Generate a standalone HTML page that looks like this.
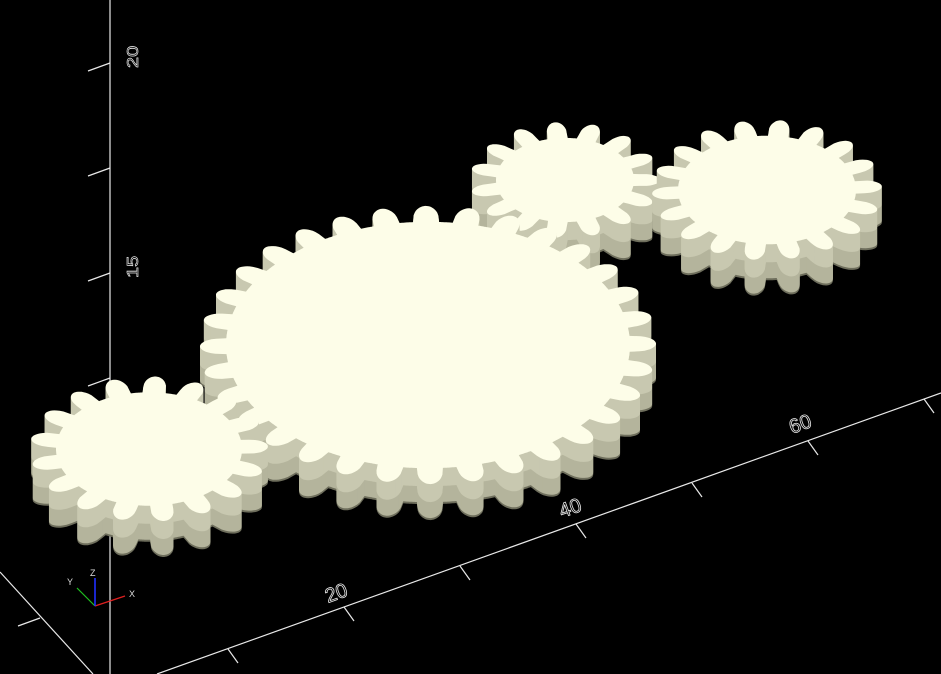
<!DOCTYPE html>
<html><head><meta charset="utf-8"><style>
html,body{margin:0;padding:0;background:#000;}
svg{display:block;}
text{font-family:"Liberation Sans",sans-serif;}
</style></head><body>
<svg id="scene" width="941" height="674" viewBox="0 0 941 674">
<rect width="941" height="674" fill="#000"/>
<g id="axes" stroke="#e8e8e8" stroke-width="1.2" fill="none">
<line x1="110" y1="0" x2="110" y2="674"/>
<line x1="157" y1="674" x2="941" y2="393"/>
<line x1="0" y1="572" x2="93" y2="674"/>
<line x1="88" y1="71" x2="110" y2="63"/>
<line x1="88" y1="176" x2="110" y2="168"/>
<line x1="88" y1="281" x2="110" y2="273"/>
<line x1="88" y1="386" x2="110" y2="378"/>
<line x1="18" y1="626" x2="40" y2="618"/>
<line x1="228" y1="649" x2="238" y2="663"/>
<line x1="344" y1="607" x2="354" y2="621"/>
<line x1="460" y1="566" x2="470" y2="580"/>
<line x1="576" y1="524" x2="586" y2="538"/>
<line x1="692" y1="483" x2="702" y2="497"/>
<line x1="808" y1="441" x2="818" y2="455"/>
<line x1="924" y1="399" x2="934" y2="413"/>
</g>
<g fill="none" stroke="#e8e8e8" font-size="20">
<text x="0" y="0" transform="translate(328,603) rotate(-20)" fill="none" stroke="#e8e8e8" stroke-width="0.8">20</text>
<text x="0" y="0" transform="translate(562,518) rotate(-20)" fill="none" stroke="#e8e8e8" stroke-width="0.8">40</text>
<text x="0" y="0" transform="translate(792,434) rotate(-20)" fill="none" stroke="#e8e8e8" stroke-width="0.8">60</text>
<text x="0" y="0" transform="translate(138,68) rotate(-90) scale(1,0.8)" fill="none" stroke="#e8e8e8" stroke-width="0.8">20</text>
<text x="0" y="0" transform="translate(138,278) rotate(-90) scale(1,0.8)" fill="none" stroke="#e8e8e8" stroke-width="0.8">15</text>
</g>
<g id="gears"></g>
<g stroke-width="1.2">
<line x1="95" y1="606" x2="125" y2="596" stroke="#e02020"/>
<line x1="95" y1="606" x2="77" y2="588" stroke="#20c020"/>
<line x1="95" y1="606" x2="95" y2="578" stroke="#2030ff" stroke-width="1.6"/>
<text x="90" y="576" font-size="9" fill="#ddd">Z</text>
<text x="129" y="597" font-size="9" fill="#ddd">X</text>
<text x="67" y="585" font-size="9" fill="#ddd">Y</text>
</g>
</svg>
<script>
// gear data: centres in screen px, outer radius (x-scale), tooth counts
const gearNames = ['gear-big','gear-small-left','gear-top-middle','gear-top-right'];
const centerX = [428, 149, 565, 767];
const centerY = [345, 449, 180, 190];
const outerR  = [228, 119, 95, 115];
const teeth   = [32, 17, 15, 18];
const phase   = [0.05, 0.1, 0.0, 0.15];
const toothH = 26, ratio = 0.61, thick = 36;
const NS = 'http://www.w3.org/2000/svg';
function gearPath(i){
  const R = outerR[i], r0 = R - toothH, N = teeth[i];
  let d = '';
  const steps = N * 32;
  for (let k = 0; k <= steps; k++) {
    const t = k / steps * Math.PI * 2;
    const c = Math.cos(N * t + phase[i] * 2 * Math.PI);
    const p = Math.pow(Math.max(0, (c + 0.4) / 1.4), 0.35);
    const r = r0 + toothH * p;
    const x = r * Math.cos(t), y = r * Math.sin(t) * ratio;
    d += (k ? 'L' : 'M') + x.toFixed(1) + ' ' + y.toFixed(1);
  }
  return d + 'Z';
}
const root = document.getElementById('gears');
const order = [2, 3, 0, 1];
order.forEach(i => {
  const g = document.createElementNS(NS, 'g');
  
  
  const d = gearPath(i);
  for (let s = thick; s >= 1; s -= 1) {
    const p = document.createElementNS(NS, 'path');
    
    
    p.setAttribute('d', d);
    const shade = s > thick - 2 ? '#6e6e5c' : (s > thick/2 ? '#b4b49c' : '#c8c8b0');
    p.setAttribute('fill', shade);
    p.setAttribute('transform', 'translate(' + centerX[i] + ',' + (centerY[i] + s) + ')');
    g.appendChild(p);
  }
  const top = document.createElementNS(NS, 'path');
  
  
  top.setAttribute('d', d);
  top.setAttribute('fill', '#fdfde8');
  top.setAttribute('transform', 'translate(' + centerX[i] + ',' + centerY[i] + ')');
  g.appendChild(top);
  root.appendChild(g);
});
</script>
</body></html>
